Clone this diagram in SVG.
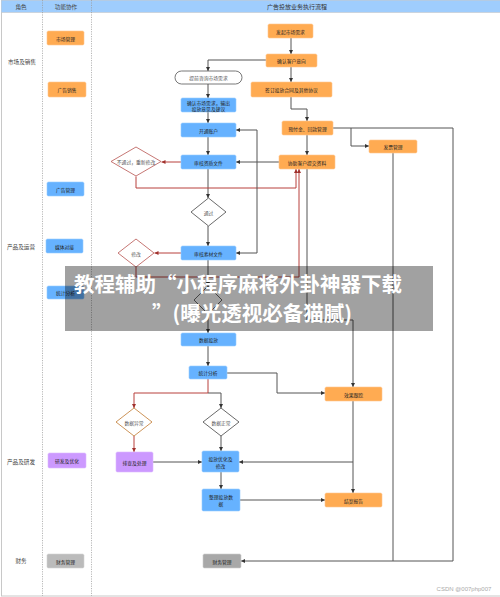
<svg xmlns="http://www.w3.org/2000/svg" width="500" height="597" viewBox="0 0 500 597">
<style>
text{font-family:"Noto Sans CJK SC","Noto Sans",sans-serif;fill:#222;text-anchor:middle;dominant-baseline:central}
.or{fill:#ffab52;stroke:#ffc890;stroke-width:0.6}
.bl{fill:#66b2ff;stroke:#99ccff;stroke-width:0.6}
.pu{fill:#cc99ff;stroke:#ddbbff;stroke-width:0.6}
.gr{fill:#bbbbbb;stroke:#d4d4d4;stroke-width:0.6}
.gr2{fill:#a8a8a8;stroke:#cccccc;stroke-width:0.6}
.t{font-size:4.8px}
.role{font-size:5.6px;fill:#444}
.dk{fill:#fff;stroke:#444;stroke-width:0.8}
.rd{fill:#fff;stroke:#b85450;stroke-width:0.8}
.ob{fill:#fff;stroke:#c0782e;stroke-width:0.8}
.dt{font-size:4.8px;fill:#555}
.c{fill:none;stroke:#555;stroke-width:1;marker-end:url(#ag)}
.cn{fill:none;stroke:#555;stroke-width:1}
.r{fill:none;stroke:#b8403c;stroke-width:1;marker-end:url(#ar)}
.div{stroke:#999;stroke-width:0.7;stroke-dasharray:1.2 1.2}
</style>
<defs>
<marker id="ag" markerUnits="userSpaceOnUse" markerWidth="5" markerHeight="5" refX="4" refY="2" orient="auto-start-reverse"><path d="M0,0 L4,2 L0,4 z" fill="#333"/></marker>
<marker id="ar" markerUnits="userSpaceOnUse" markerWidth="5" markerHeight="5" refX="4" refY="2" orient="auto-start-reverse"><path d="M0,0 L4,2 L0,4 z" fill="#a0302c"/></marker>
</defs>
<rect x="0" y="0" width="500" height="597" fill="#fff"/>
<g id="frame">
<rect x="1.5" y="0.5" width="500" height="595.5" fill="none" stroke="#c8c8c8" stroke-width="1"/>
<rect x="1.5" y="0.5" width="499" height="12" fill="#9fcdfd"/>
<line x1="1.5" y1="12.5" x2="500" y2="12.5" stroke="#c8c8c8" stroke-width="0.6"/>
<line class="div" x1="42.5" y1="0" x2="42.5" y2="596"/>
<line class="div" x1="91.5" y1="0" x2="91.5" y2="596"/>
<text x="21" y="6.5" class="role">角色</text>
<text x="66" y="6.5" class="role">功能协作</text>
<text x="297" y="6.5" style="font-size:6px;fill:#333">广告投放业务执行流程</text>
<text x="22" y="62" class="role">市场及销售</text>
<text x="21" y="247" class="role">产品及运营</text>
<text x="21" y="462" class="role">产品及研发</text>
<text x="21" y="561" class="role">财务</text>
</g>
<g id="functions">
<g id="f1"><rect class="or" x="47" y="31" width="37" height="14" rx="1.5"/><text class="t" x="65.5" y="38">市场管理</text></g>
<g id="f2"><rect class="or" x="48" y="82" width="38" height="15" rx="1.5"/><text class="t" x="67" y="89.5">广告销售</text></g>
<g id="f3"><rect class="bl" x="47" y="182" width="37" height="14" rx="1.5"/><text class="t" x="65.5" y="189">广告管理</text></g>
<g id="f4"><rect class="bl" x="46" y="239" width="37" height="14" rx="1.5"/><text class="t" x="64.5" y="246">媒体对接</text></g>
<g id="f5"><rect class="bl" x="47" y="286" width="37" height="13" rx="1.5"/><text class="t" x="65.5" y="292.5">统计分析</text></g>
<g id="f6"><rect class="pu" x="48" y="453" width="38" height="15" rx="1.5"/><text class="t" x="67" y="460.5">研发及优化</text></g>
<g id="f7"><rect class="gr" x="47" y="554" width="37" height="14" rx="1.5"/><text class="t" x="65.5" y="561">财务管理</text></g>
</g>
<g id="connectors">
<path class="c" d="M291,38 V54"/>
<path class="c" d="M266,60 H208 V71"/>
<path class="c" d="M291,67 V82"/>
<path class="c" d="M291,97 V109 H307 V121"/>
<path class="c" d="M208,84 V98"/>
<path class="c" d="M208,112 V123"/>
<path class="c" d="M208,137 V155"/>
<path class="c" d="M208,169 V198"/>
<path class="c" d="M208,226 V246"/>
<path class="c" d="M208,260 V286"/>
<path class="c" d="M208,314 V333"/>
<path class="c" d="M208,346 V366"/>
<path class="r" d="M181,162 H161.5"/>
<path class="r" d="M136,176.5 V188 H296 V169"/>
<path class="r" d="M181,253 H154.5"/>
<path class="r" d="M136,267 V277 H299 V169"/>
<path class="c" d="M307,135 V155"/>
<path class="c" d="M307,169 V320 H353 V387"/>
<path class="c" d="M333,128 H453 V561 H241"/>
<path class="cn" d="M393,153 V561"/>
<path class="c" d="M351,128 V146 H369"/>
<path class="c" d="M279,162 H236"/>
<path class="c" style="marker-start:url(#ag)" d="M236,253 H257 V130 H236"/>
<path class="c" d="M227,373 H277 V393 H325"/>
<path class="r" d="M208,379 V393 H134 V408"/>
<path class="c" d="M208,393 H221 V408"/>
<path class="r" d="M134,436 V452"/>
<path class="c" d="M221,436 V451"/>
<path class="c" d="M153,462 H202"/>
<path class="c" d="M353,401 V493"/>
<path class="c" d="M353,462 H239"/>
<path class="c" d="M221,472 V489"/>
<path class="c" d="M240,500 H325"/>
</g>
<g id="nodes">
<g id="n1"><rect class="or" x="268" y="24" width="45" height="14" rx="1.5"/><text class="t" x="290.5" y="31">发起市场需求</text></g>
<g id="n2"><rect class="or" x="266" y="54" width="51" height="13" rx="1.5"/><text class="t" x="291.5" y="60.5">确认客户意向</text></g>
<g id="n3"><rect class="or" x="251" y="82" width="81" height="15" rx="1.5"/><text class="t" x="291.5" y="89.5">签订投放合同及其他协议</text></g>
<g id="n4"><rect class="or" x="282" y="121" width="51" height="14" rx="1.5"/><text class="t" x="307.5" y="128">预付金、回款管理</text></g>
<g id="n5"><rect class="or" x="369" y="140" width="48" height="13" rx="1.5"/><text class="t" x="393" y="146.5">发票管理</text></g>
<g id="n6"><rect class="or" x="279" y="155" width="56" height="14" rx="1.5"/><text class="t" x="307" y="162">协助客户提交资料</text></g>
<g id="n7"><rect x="175" y="71" width="67" height="13" rx="6.5" fill="#fff" stroke="#555" stroke-width="0.8"/><text class="dt" x="208.5" y="77.5">提前咨询市场需求</text></g>
<g id="n8"><rect class="bl" x="181" y="98" width="55" height="14" rx="1.5"/><text class="t" x="208.5" y="102.5">确认市场需求，输出</text><text class="t" x="208.5" y="108">投放意见及建议</text></g>
<g id="n9"><rect class="bl" x="181" y="123" width="55" height="14" rx="1.5"/><text class="t" x="208.5" y="130">开通账户</text></g>
<g id="n10"><rect class="bl" x="181" y="155" width="55" height="14" rx="1.5"/><text class="t" x="208.5" y="162">审核资质文件</text></g>
<g id="n11"><path class="rd" d="M136,147 L161,161.5 L136,176 L111,161.5 z"/><text class="dt" x="136" y="161.5">不通过，重新修改</text></g>
<g id="n12"><path class="dk" d="M208.5,198 L226,212 L208.5,226 L191,212 z"/><text class="dt" x="208.5" y="212">通过</text></g>
<g id="n13"><rect class="bl" x="181" y="246" width="55" height="14" rx="1.5"/><text class="t" x="208.5" y="253">审核素材文件</text></g>
<g id="n14"><path class="rd" d="M136,239 L154,253 L136,267 L118,253 z"/><text class="dt" x="136" y="253">修改</text></g>
<g id="n15"><path class="dk" d="M208,286 L222,300 L208,314 L194,300 z"/></g>
<g id="n16"><rect class="bl" x="181" y="333" width="55" height="13" rx="1.5"/><text class="t" x="208.5" y="339.5">数据投放</text></g>
<g id="n17"><rect class="bl" x="189" y="366" width="38" height="13" rx="1.5"/><text class="t" x="208" y="372.5">统计分析</text></g>
<g id="n18"><path class="ob" d="M134,408 L152,422 L134,436 L116,422 z"/><text class="dt" x="134" y="422">数据异常</text></g>
<g id="n19"><path class="dk" d="M221,408 L239,422 L221,436 L203,422 z"/><text class="dt" x="221" y="422">数据正常</text></g>
<g id="n20"><rect class="pu" x="116" y="452" width="37" height="20" rx="1.5"/><text class="t" x="134.5" y="462">排查及处理</text></g>
<g id="n21"><rect class="bl" x="202" y="451" width="37" height="21" rx="1.5"/><text class="t" x="220.5" y="458.5">投放优化及</text><text class="t" x="220.5" y="465">修改</text></g>
<g id="n22"><rect class="bl" x="202" y="489" width="38" height="22" rx="1.5"/><text class="t" x="221" y="496.5">整理投放数</text><text class="t" x="221" y="503">据</text></g>
<g id="n23"><rect class="or" x="325" y="387" width="57" height="14" rx="1.5"/><text class="t" x="353.5" y="394">效果跟踪</text></g>
<g id="n24"><rect class="or" x="325" y="493" width="57" height="14" rx="1.5"/><text class="t" x="353.5" y="500">结案报告</text></g>
<g id="n25"><rect class="gr2" x="203" y="554" width="38" height="14" rx="1.5"/><text class="t" x="222" y="561">财务管理</text></g>
</g>
<g id="watermark">
<rect x="65" y="266" width="368" height="65" fill="#000" fill-opacity="0.37"/>
<text x="74" y="283" style="font-size:20.5px;font-weight:bold;fill:#fff;text-anchor:start">教程辅助“小程序麻将外卦神器下载</text>
<text x="152" y="312" style="font-size:20.5px;font-weight:bold;fill:#fff;text-anchor:start">”(曝光透视必备猫腻)</text>
</g>
<text x="464" y="589" style="font-size:6px;fill:#aaa;font-family:'Liberation Sans',sans-serif">CSDN @007php007</text>
</svg>
